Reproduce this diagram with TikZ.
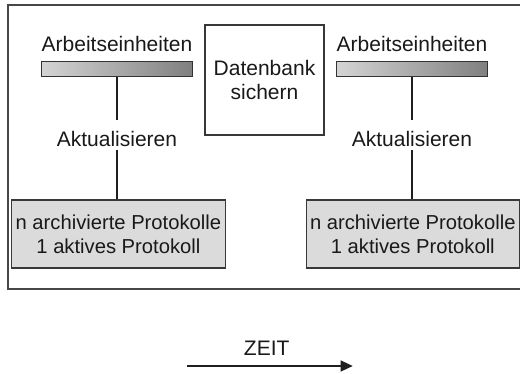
\documentclass[tikz,border=0pt]{standalone}
\usepackage{fontspec}
\setmainfont{Liberation Sans}
\usetikzlibrary{arrows.meta}
\begin{document}
\begin{tikzpicture}[x=1pt,y=-1pt,
  txt/.style={font=\fontsize{21}{24.5}\selectfont, text=black!90},
  boxtxt/.style={font=\fontsize{20.2}{24}\selectfont, text=black!90},
  lbl/.style={txt, inner sep=0pt, text height=15.3pt, text depth=0pt},
  unitbar/.style={draw=black!80, line width=1pt, left color=black!17, right color=black!50,
    minimum width=151pt, minimum height=15pt, inner sep=0pt},
  logbox/.style={boxtxt, draw=black!78, line width=1.1pt, fill=black!14, minimum width=213.5pt,
    minimum height=68pt, inner sep=0pt, align=center},
  dbbox/.style={txt, draw=black!78, line width=1.1pt, fill=white, minimum width=119pt,
    minimum height=110pt, inner sep=0pt, align=center},
  conn/.style={line width=1.1pt, draw=black!88},
  frame/.style={line width=1.1pt, draw=black!72}]
\useasboundingbox (0,0) rectangle (520,374);

% outer frame (open towards the right)
\draw[frame] (521,5) -- (8,5) -- (8,289) -- (521,289);

% left column
\node[lbl] (workL) at (117,44.2) {Arbeitseinheiten};
\node[unitbar] (barL) at (117,69.2) {};
\node[lbl] (aktL) at (117,139.2) {Aktualisieren};
\node[logbox] (logL) at (118.4,234) {n archivierte Protokolle\\1 aktives Protokoll};

% database backup in the middle
\node[dbbox] (db) at (264.5,80) {Datenbank\\sichern};

% right column
\node[lbl] (workR) at (412,44.2) {Arbeitseinheiten};
\node[unitbar] (barR) at (412.3,69.2) {};
\node[lbl] (aktR) at (412,139.2) {Aktualisieren};
\node[logbox] (logR) at (412.8,234) {n archivierte Protokolle\\1 aktives Protokoll};

% connectors
\draw[conn] (barL.south) -- ([yshift=11.7pt]aktL.north);
\draw[conn] ([yshift=-3pt]aktL.south) -- (aktL.south |- logL.north);
\draw[conn] (barR.south -| aktR.north) -- ([yshift=11.7pt]aktR.north);
\draw[conn] ([yshift=-3pt]aktR.south) -- (aktR.south |- logR.north);

% time axis
\node[lbl] (zeit) at (266.7,348.2) {ZEIT};
\coordinate (t0) at (187.3,366);
\coordinate (t1) at (352.7,366);
\draw[conn, -{Triangle[length=12pt,width=11pt]}] (t0) -- (t1);
\end{tikzpicture}
\end{document}
